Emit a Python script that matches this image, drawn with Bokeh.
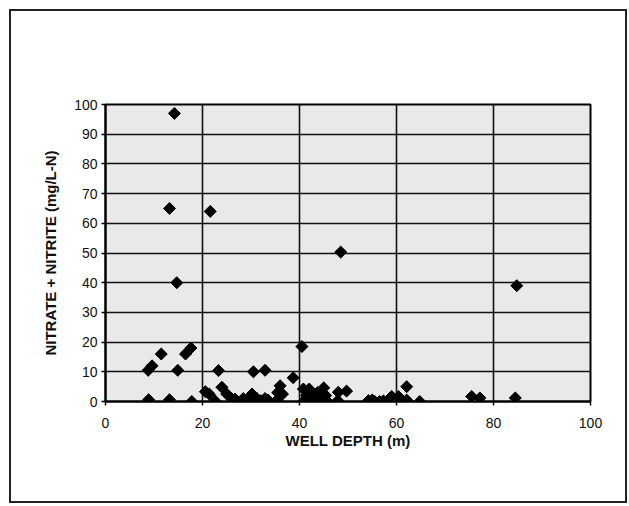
import numpy as np
from bokeh.plotting import figure
from bokeh.models import ColumnDataSource, FixedTicker, Range1d
from bokeh.embed import file_html
from bokeh.resources import INLINE

# Well depth (m) and nitrate + nitrite (mg/L-N)
well_depth = [14.2, 13.2, 21.6, 14.7, 48.5, 84.8, 8.8, 9.6, 11.5, 14.9, 16.5, 17.6,
              8.9, 13.2, 17.8, 20.6, 21.4, 22.6, 23.3, 24.0, 25.0, 26.0, 26.7, 28.4,
              29.5, 30.2, 30.5, 31.2, 32.0, 32.9, 32.9, 33.5, 35.4, 35.5, 36.0, 36.5,
              38.7, 40.5, 40.8, 41.0, 41.4, 42.0, 42.3, 42.6, 43.3, 43.7, 44.3, 45.0,
              45.4, 45.6, 47.9, 48.0, 49.7, 54.2, 55.0, 55.5, 56.5, 57.3, 58.5, 59.0,
              60.4, 61.0, 62.1, 62.1, 64.8, 75.5, 77.2, 84.5]
nitrate = [97.0, 65.0, 64.0, 40.0, 50.3, 39.0, 10.5, 12.0, 16.0, 10.5, 16.0, 18.0,
           0.6, 0.6, 0.0, 3.3, 2.5, 0.2, 10.4, 4.8, 2.5, 1.0, 0.8, 1.0,
           0.5, 2.5, 10.0, 1.0, 0.3, 10.5, 1.0, 0.5, 0.5, 3.0, 5.3, 2.5,
           8.0, 18.5, 4.2, 0.3, 2.0, 4.2, 0.5, 1.0, 0.0, 3.0, 0.5, 4.6,
           2.0, 0.3, 0.3, 3.1, 3.5, 0.3, 0.5, 0.0, 0.0, 0.2, 0.8, 1.7,
           1.7, 0.5, 5.0, 0.5, 0.0, 1.7, 1.2, 1.2]

x_ticks = [0, 20, 40, 60, 80, 100]
y_ticks = [0, 10, 20, 30, 40, 50, 60, 70, 80, 90, 100]

FONT = "Liberation Sans"

p = figure(width=618, height=496, output_backend="svg", toolbar_location=None,
           x_range=Range1d(0, 100), y_range=Range1d(0, 100),
           frame_width=485, frame_height=297,
           min_border_left=94, min_border_top=93, min_border_right=35, min_border_bottom=100)

p.margin = (9, 0, 0, 9)
p.background_fill_color = "#e9e9e9"
p.border_fill_color = "white"
p.outline_line_color = "black"
p.outline_line_width = 2
p.styles = {"border": "2px solid #222222", "box-sizing": "border-box"}

p.xaxis.ticker = FixedTicker(ticks=x_ticks)
p.yaxis.ticker = FixedTicker(ticks=y_ticks)
p.xgrid.ticker = FixedTicker(ticks=x_ticks)
p.ygrid.ticker = FixedTicker(ticks=y_ticks)
for g in (p.xgrid, p.ygrid):
    g.grid_line_color = "#111111"
    g.grid_line_width = 1.6
    g.grid_line_alpha = 1.0

for ax in (p.xaxis, p.yaxis):
    ax.axis_line_color = "black"
    ax.axis_line_width = 2
    ax.major_tick_line_color = "black"
    ax.major_tick_line_width = 1.5
    ax.major_tick_out = 4
    ax.major_tick_in = 0
    ax.minor_tick_line_color = None
    ax.major_label_text_font = FONT
    ax.major_label_text_font_size = "14px"
    ax.major_label_text_color = "#111111"
    ax.axis_label_text_font = FONT
    ax.axis_label_text_font_size = "15px"
    ax.axis_label_text_font_style = "bold"
    ax.axis_label_text_color = "#111111"

p.xaxis.axis_label = "WELL DEPTH (m)"
p.yaxis.axis_label = "NITRATE + NITRITE (mg/L-N)"
p.xaxis.major_label_standoff = 12
p.yaxis.major_label_standoff = 4
p.xaxis.axis_label_standoff = 1
p.yaxis.axis_label_standoff = 12

src = ColumnDataSource(data=dict(x=well_depth, y=nitrate))
p.scatter("x", "y", source=src, marker="square", angle=np.pi / 4, size=8.5,
          fill_color="black", line_color="black", line_width=1)

open("out.html", "w").write(file_html(p, INLINE))
